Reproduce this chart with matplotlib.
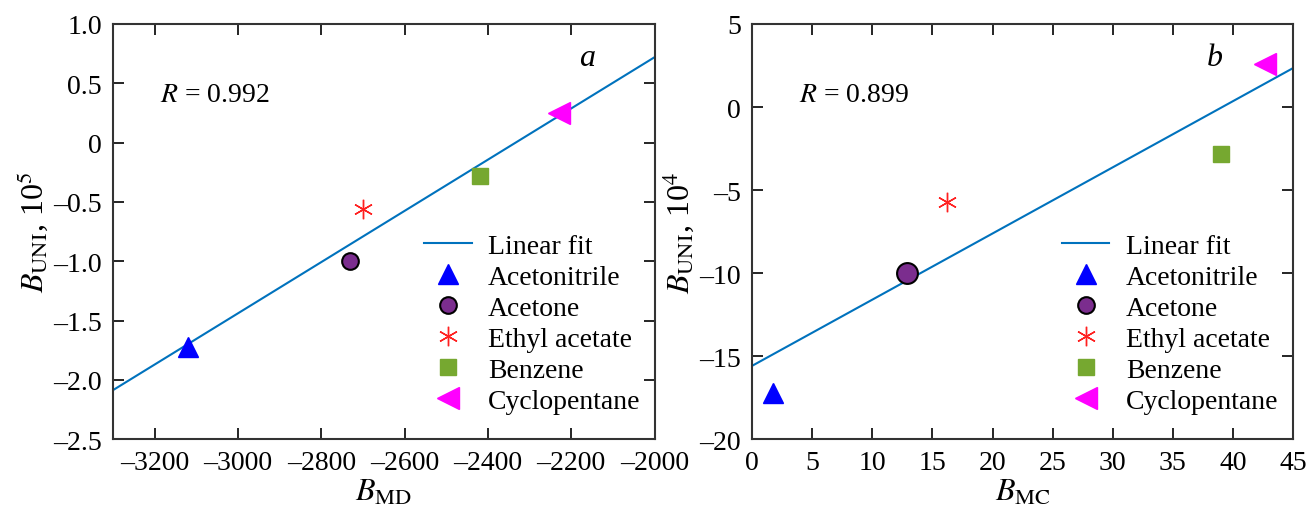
import numpy as np
import matplotlib.pyplot as plt

plt.rcParams['font.family'] = ['Liberation Serif', 'DejaVu Serif']
plt.rcParams['mathtext.fontset'] = 'stix'
plt.rcParams['font.size'] = 20

# Solvents shown in both panels
solvents = ["Acetonitrile", "Acetone", "Ethyl acetate", "Benzene", "Cyclopentane"]

# Panel a: B_MD vs B_UNI (x 10^5)
b_md = [-3120, -2730, -2700, -2420, -2230]
b_uni_a = [-1.72, -1.00, -0.56, -0.28, 0.25]

# Panel b: B_MC vs B_UNI (x 10^4)
b_mc = [1.7, 12.9, 16.2, 39.0, 42.7]
b_uni_b = [-17.2, -10.0, -5.7, -2.8, 2.6]

styles = [
    dict(marker='^', color='#0000FF', markersize=15, linestyle='none'),
    dict(marker='o', color='#7B2D8E', markeredgecolor='black', markeredgewidth=1.5,
         markersize=12, linestyle='none'),
    dict(marker=(6, 2, 0), color='#FF2020', markersize=14, markeredgewidth=1.0, linestyle='none'),
    dict(marker='s', color='#76A830', markersize=11, linestyle='none'),
    dict(marker='<', color='#FF00FF', markersize=16, linestyle='none'),
]

fig = plt.figure(figsize=(13.08, 5.10), dpi=100)
ax1 = fig.add_axes([0.0864, 0.137, 0.414, 0.814])
ax2 = fig.add_axes([0.575, 0.137, 0.4136, 0.814])


def dash(v, fmt):
    # en dash as minus, like the original typesetting
    s = fmt.format(abs(v))
    return ('\u2013' + s) if v < 0 else s


def panel(ax, x, y, xlim, ylim, xticks, yticks, yfmt, xlabel, ylabel, rtext, letter,
          letter_x, leg_x, circle_size):
    k, b = np.polyfit(x, y, 1)
    xl = np.array(xlim)
    ax.plot(xl, k * xl + b, color='#0072BD', lw=1.5, label='Linear fit')
    for i, (xi, yi, name, st) in enumerate(zip(x, y, solvents, styles)):
        ax.plot([xi], [yi], label=name, **st)
        if i == 1:
            # the data circle is drawn a bit larger than its legend key
            ax.lines[-1].set_markersize(circle_size)
    ax.set_xlim(xlim)
    ax.set_ylim(ylim)
    ax.set_xticks(xticks)
    ax.set_xticklabels([dash(v, '{:g}') for v in xticks])
    ax.set_yticks(yticks)
    ax.set_yticklabels([dash(v, yfmt) if v != 0 else '0' for v in yticks])
    ax.tick_params(direction='in', length=8, width=1.2, top=True, right=True, labelsize=20, pad=8)
    for s in ax.spines.values():
        s.set_linewidth(1.5)
        s.set_color('#333333')
    ax.set_xlabel(xlabel, fontsize=23, labelpad=2)
    ax.set_ylabel(ylabel, fontsize=23, labelpad=2)
    ax.text(0.087, 0.83, rtext, transform=ax.transAxes, fontsize=20, va='center')
    ax.text(letter_x, 0.92, letter, transform=ax.transAxes, fontsize=23, style='italic', va='center')
    leg = ax.legend(loc='lower left', bbox_to_anchor=(leg_x, 0.014), frameon=False, fontsize=20,
                    handlelength=1.7, handletextpad=0.6, labelspacing=0.2, borderpad=0.2)
    leg.legend_handles[2].set_markersize(12)


panel(ax1, b_md, b_uni_a, (-3300, -2000), (-2.5, 1.0),
      [-3200, -3000, -2800, -2600, -2400, -2200, -2000],
      [-2.5, -2.0, -1.5, -1.0, -0.5, 0, 0.5, 1.0], '{:.1f}',
      r'$B_{\mathrm{MD}}$', r'$B_{\mathrm{UNI}}$, 10$^5$', r'$R$ = 0.992', 'a', 0.86, 0.539, 12)

panel(ax2, b_mc, b_uni_b, (0, 45), (-20, 5),
      [0, 5, 10, 15, 20, 25, 30, 35, 40, 45],
      [-20, -15, -10, -5, 0, 5], '{:g}',
      r'$B_{\mathrm{MC}}$', r'$B_{\mathrm{UNI}}$, 10$^4$', r'$R$ = 0.899', 'b', 0.84, 0.537, 15)

fig.savefig('out.png', dpi=100)
